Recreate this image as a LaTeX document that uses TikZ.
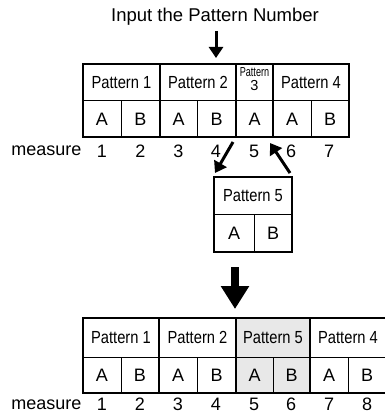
\documentclass[tikz,border=0pt]{standalone}
\usepackage{fontspec}
\setmainfont{Liberation Sans}
\newfontfamily\condfont{Liberation Sans}[FakeStretch=0.84]
\newfontfamily\narrowfont{Liberation Sans}[FakeStretch=0.7]
\usetikzlibrary{arrows.meta}
\tikzset{
  cell/.style={draw, line width=1pt, inner sep=0pt, anchor=center, font=\fontsize{18}{19}\selectfont},
  pathead/.style={cell, font=\condfont\fontsize{17.5}{19}\selectfont},
  grp/.style={draw, line width=2.6pt},
  lbl/.style={inner sep=0pt, font=\fontsize{18}{19}\selectfont},
  arr/.style={line width=3pt, -{Triangle[width=14pt,length=11pt]}},
  bigarr/.style={line width=7.5pt, -{Triangle[width=27pt,length=23pt]}},
}
% \mycell{name}{x1}{y1}{x2}{y2}{style}{text}
\newcommand\mycell[7]{%
  \node[#6, minimum width={(#4-#2)*1pt}, minimum height={(#5-#3)*1pt}] (#1) at ({(#2+#4)/2},{(#3+#5)/2}) {#7};}
\begin{document}
\begin{tikzpicture}[x=1pt,y=-1pt]
\useasboundingbox (0,0) rectangle (384,414);
% title
\node[inner sep=0pt, font=\fontsize{18.5}{20}\selectfont] (title) at (215,17) {Input the Pattern Number};
\coordinate (inA) at (216,31);
\coordinate (inB) at (216,58);
\draw[arr] (inA) -- (inB);
% ---- top table ----
\mycell{tp1}{83}{64}{160}{101}{pathead}{Pattern 1}
\mycell{tp2}{160}{64}{236}{101}{pathead}{Pattern 2}
\mycell{tp3}{236}{64}{273}{101}{cell}{}
\node[inner sep=0pt, font=\narrowfont\fontsize{13}{13}\selectfont] (tp3a) at (254.5,72.5) {Pattern};
\node[inner sep=0pt, font=\fontsize{14.5}{15}\selectfont] (tp3b) at (254.5,85.5) {3};
\mycell{tp4}{273}{64}{349}{101}{pathead}{Pattern 4}
\mycell{ta1}{83}{101}{121}{137}{cell}{A}
\mycell{tb1}{121}{101}{160}{137}{cell}{B}
\mycell{ta2}{160}{101}{197}{137}{cell}{A}
\mycell{tb2}{197}{101}{236}{137}{cell}{B}
\mycell{ta3}{236}{101}{273}{137}{cell}{A}
\mycell{ta4}{273}{101}{311}{137}{cell}{A}
\mycell{tb4}{311}{101}{349}{137}{cell}{B}
\draw[grp] (83,64) rectangle (160,137);
\draw[grp] (160,64) rectangle (236,137);
\draw[grp] (236,64) rectangle (273,137);
\draw[grp] (273,64) rectangle (349,137);
% measures top
\node[lbl, anchor=east] (tm) at (81.5,151) {measure};
\foreach \x/\n in {102/1,140.5/2,178.5/3,216/4,254/5,291/6,329/7}
  \node[lbl] (tm\n) at (\x,151) {\n};
% ---- pattern 5 ----
\mycell{p5}{214}{177}{292}{214}{pathead}{Pattern 5}
\mycell{p5a}{214}{214}{254}{252}{cell}{A}
\mycell{p5b}{254}{214}{292}{252}{cell}{B}
\draw[grp] (214,177) rectangle (292,252);
% diagonal arrows
\coordinate (outA) at (233,142);
\coordinate (outB) at (215,173);
\coordinate (backA) at (290,173);
\coordinate (backB) at (270,143);
\draw[arr] (outA) -- (outB);
\draw[arr] (backA) -- (backB);
% big arrow
\coordinate (bigA) at (235,267);
\coordinate (bigB) at (235,309);
\draw[bigarr] (bigA) -- (bigB);
% ---- bottom table ----
\fill[gray!18] (236,318) rectangle (310,393);
\mycell{bp1}{83}{318}{159}{357}{pathead}{Pattern 1}
\mycell{bp2}{159}{318}{236}{357}{pathead}{Pattern 2}
\mycell{bp5}{236}{318}{310}{357}{pathead}{Pattern 5}
\mycell{bp4}{310}{318}{386}{357}{pathead}{Pattern 4}
\mycell{ba1}{83}{357}{121}{393}{cell}{A}
\mycell{bb1}{121}{357}{159}{393}{cell}{B}
\mycell{ba2}{159}{357}{197}{393}{cell}{A}
\mycell{bb2}{197}{357}{236}{393}{cell}{B}
\mycell{ba5}{236}{357}{273}{393}{cell}{A}
\mycell{bb5}{273}{357}{310}{393}{cell}{B}
\mycell{ba4}{310}{357}{348}{393}{cell}{A}
\mycell{bb4}{348}{357}{386}{393}{cell}{B}
\draw[grp] (83,318) rectangle (159,393);
\draw[grp] (159,318) rectangle (236,393);
\draw[grp] (236,318) rectangle (310,393);
\draw[grp] (310,318) rectangle (388,393);
% measures bottom
\node[lbl, anchor=east] (bm) at (81.5,404.5) {measure};
\foreach \x/\n in {102/1,140/2,178/3,216/4,254/5,291/6,329/7,367/8}
  \node[lbl] (bm\n) at (\x,404.5) {\n};
\end{tikzpicture}
\end{document}
